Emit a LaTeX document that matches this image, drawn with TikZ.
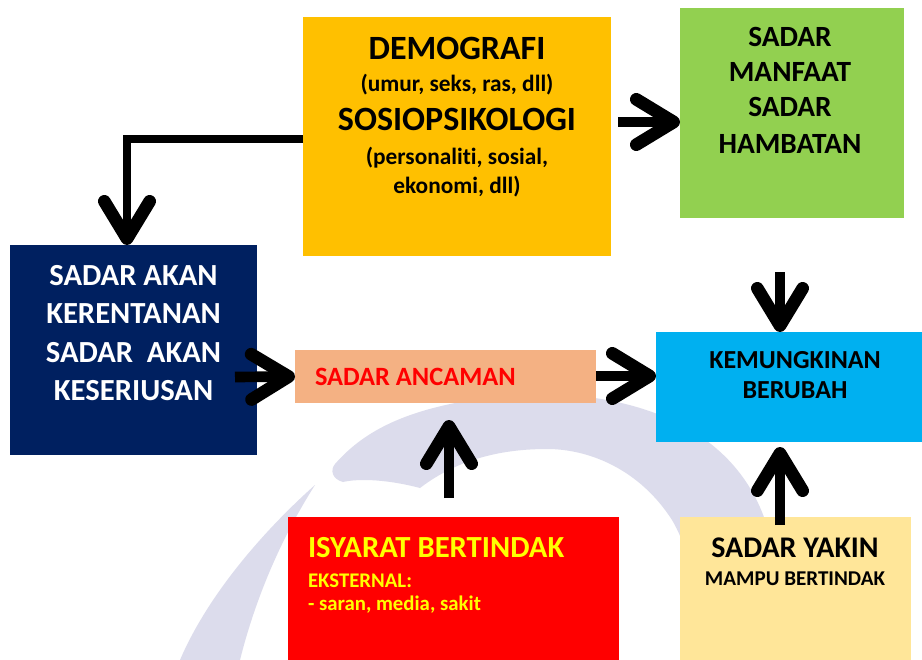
\documentclass[tikz,border=0pt]{standalone}
\usepackage{fontspec}
\setmainfont{Carlito}[Ligatures=NoCommon]
\usetikzlibrary{arrows.meta}
\definecolor{cyel}{HTML}{FFC000}
\definecolor{cgrn}{HTML}{92D050}
\definecolor{cnav}{HTML}{002060}
\definecolor{csal}{HTML}{F4B183}
\definecolor{ccya}{HTML}{00B0F0}
\definecolor{cred}{HTML}{FF0000}
\definecolor{clye}{HTML}{FFE699}
\definecolor{ctxy}{HTML}{FFFF00}
\definecolor{cwm}{HTML}{DCDCEC}
\newcommand{\fs}[1]{\fontsize{#1}{#1}\selectfont\bfseries}
\begin{document}
\begin{tikzpicture}[x=0.75pt,y=-0.75pt,
  box/.style={inner sep=0pt, outer sep=0pt, draw=none},
  txt/.style={inner sep=0pt, outer sep=0pt, anchor=base},
  ltxt/.style={inner sep=0pt, outer sep=0pt, anchor=base west},
  arr/.style={line width=8pt, -{Straight Barb[length=28pt, width=34pt, line width=9.5pt, round]}},
  elbow/.style={line width=6pt, -{Straight Barb[length=28pt, width=34pt, line width=9.5pt, round]}},
  wm/.style={fill=cwm}]
\useasboundingbox (0,0) rectangle (922,660);
\fill[white] (0,0) rectangle (922,660);
% watermark
\fill[wm] (335,464) .. controls (365,430) and (410,405) .. (510,395)
  .. controls (620,388) and (730,420) .. (765,520)
  .. controls (780,570) and (790,620) .. (795,660) -- (705,660)
  .. controls (700,600) and (690,550) .. (672,520)
  .. controls (640,470) and (590,449) .. (547,449)
  .. controls (490,449) and (450,465) .. (420,488)
  .. controls (390,480) and (360,478) .. (343,482)
  .. controls (332,479) and (330,470) .. (335,464) -- cycle;
\fill[wm] (315,485) .. controls (270,525) and (210,590) .. (180,660) -- (240,660)
  .. controls (255,600) and (280,540) .. (315,485) -- cycle;
% boxes
\node[box, fill=cyel, minimum width=308*0.75pt, minimum height=239*0.75pt] (yel) at (457,136.5) {};
\node[box, fill=cgrn, minimum width=224*0.75pt, minimum height=210*0.75pt] (grn) at (792,113) {};
\node[box, fill=cnav, minimum width=247*0.75pt, minimum height=210*0.75pt] (nav) at (133.5,350) {};
\node[box, fill=csal, minimum width=301*0.75pt, minimum height=53*0.75pt] (sal) at (445.5,376.5) {};
\node[box, fill=ccya, minimum width=266*0.75pt, minimum height=110*0.75pt] (cya) at (789,387) {};
\node[box, fill=cred, minimum width=331*0.75pt, minimum height=143*0.75pt] (red) at (453.5,588.5) {};
\node[box, fill=clye, minimum width=231*0.75pt, minimum height=143*0.75pt] (lye) at (795.5,588.5) {};
% texts
\node[txt] (t1) at (457,60) {\fs{25.5pt}DEMOGRAFI};
\node[txt] (t2) at (457,92) {\fs{17.5pt}(umur, seks, ras, dll)};
\node[txt] (t3) at (457,131) {\fs{25.5pt}SOSIOPSIKOLOGI};
\node[txt] (t4) at (457,165) {\fs{17.5pt}(personaliti, sosial,};
\node[txt] (t5) at (457,193) {\fs{17.5pt}ekonomi, dll)};
\node[txt] (g1) at (790,47) {\fs{22pt}SADAR};
\node[txt] (g2) at (790,82) {\fs{22pt}MANFAAT};
\node[txt] (g3) at (790,117) {\fs{22pt}SADAR};
\node[txt] (g4) at (790,153) {\fs{22pt}HAMBATAN};
\node[txt, text=white] (n1) at (133.5,285) {\fs{23pt}SADAR AKAN};
\node[txt, text=white] (n2) at (133.5,323) {\fs{23pt}KERENTANAN};
\node[txt, text=white] (n3) at (133.5,362) {\fs{23pt}SADAR\ \ AKAN};
\node[txt, text=white] (n4) at (133.5,400) {\fs{23pt}KESERIUSAN};
\node[ltxt, text=cred] (s1) at (315,385) {\fs{19.8pt}SADAR ANCAMAN};
\node[txt] (c1) at (795,368) {\fs{19.5pt}KEMUNGKINAN};
\node[txt] (c2) at (795,398) {\fs{19.5pt}BERUBAH};
\node[ltxt, text=ctxy] (r1) at (308,557) {\fs{23pt}ISYARAT BERTINDAK};
\node[ltxt, text=ctxy] (r2) at (308,587) {\fs{15.6pt}EKSTERNAL:};
\node[ltxt, text=ctxy] (r3) at (308,610) {\fs{15.6pt}- saran, media, sakit};
\node[txt] (y1) at (795,557) {\fs{22.5pt}SADAR YAKIN};
\node[txt] (y2) at (795,585) {\fs{15.8pt}MAMPU BERTINDAK};
% connectors
\draw[elbow] ([shift={(0,2.5)}]yel.west) -| ([shift={(-6.5,0)}]nav.north);
\draw[arr] ([shift={(7,-14.5)}]yel.east) -- ([shift={(0,9)}]grn.west);
\draw[arr] ([shift={(-22,27)}]nav.east) -- (sal.west);
\draw[arr] ([shift={(0,-0.5)}]sal.east) -- ([shift={(0,-11)}]cya.west);
\draw[arr] ([shift={(-4.5,-19)}]red.north) -- ([shift={(3.5,17)}]sal.south);
\draw[arr] ([shift={(-12,54)}]grn.south) -- ([shift={(-9,0)}]cya.north);
\draw[arr] ([shift={(-15.5,8)}]lye.north) -- ([shift={(-9,5)}]cya.south);
\end{tikzpicture}
\end{document}
